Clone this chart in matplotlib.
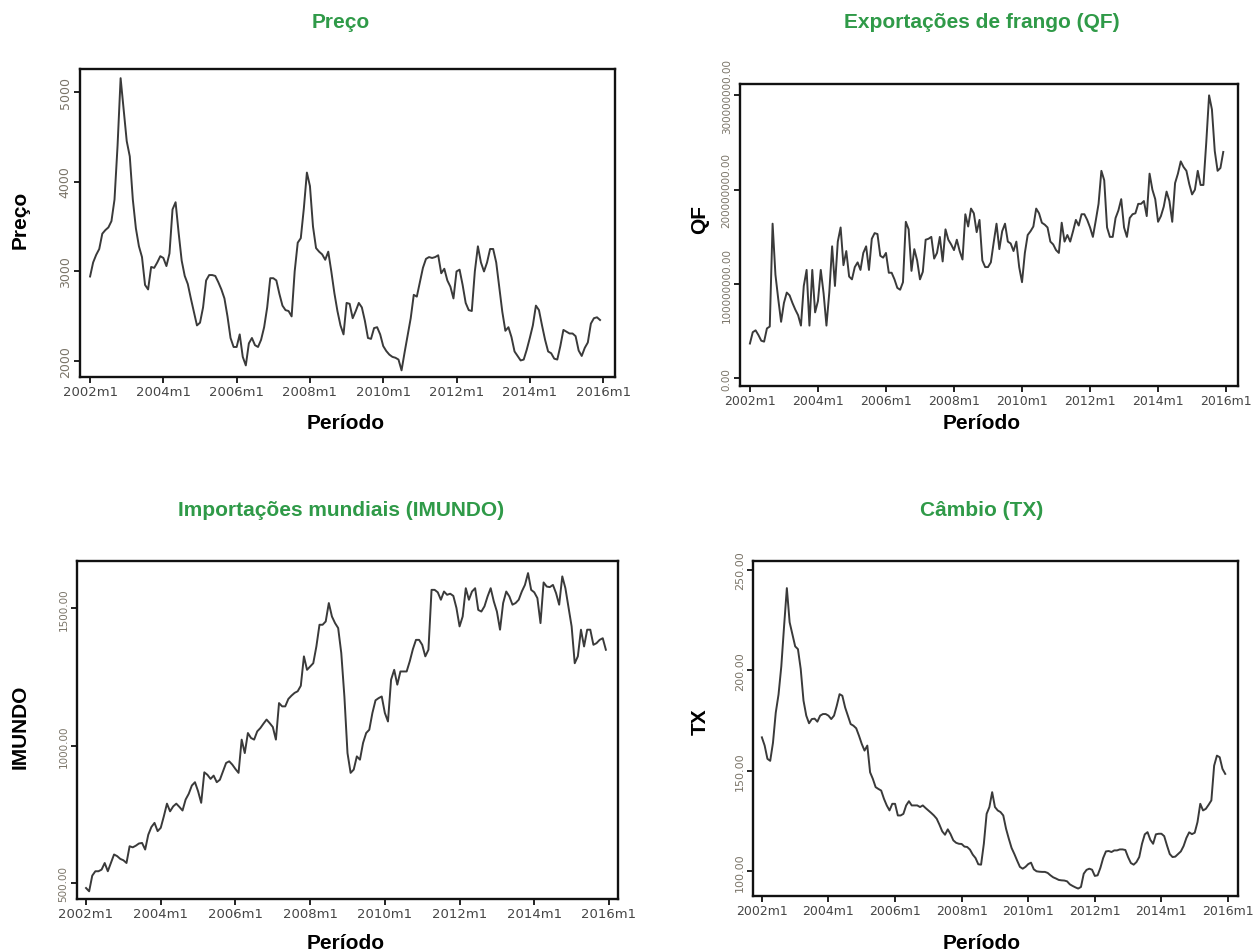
import matplotlib
matplotlib.use("Agg")
import matplotlib.pyplot as plt
import numpy as np

plt.rcParams['font.family'] = ['Liberation Sans', 'DejaVu Sans']

# ---------------- data (monthly, 2002m1 .. 2015m12) ----------------
preco = [2944, 3100, 3185, 3250, 3420, 3460, 3490, 3560, 3800, 4400,
         5150, 4800, 4450, 4280, 3800, 3480, 3280, 3160, 2850, 2800,
         3050, 3040, 3100, 3170, 3150, 3060, 3200, 3690, 3770, 3430,
         3120, 2950, 2860, 2700, 2550, 2400, 2430, 2600, 2900, 2960,
         2960, 2950, 2880, 2800, 2700, 2500, 2260, 2160, 2160, 2300,
         2050, 1955, 2200, 2260, 2180, 2160, 2240, 2380, 2600, 2925,
         2925, 2900, 2750, 2620, 2570, 2560, 2500, 3000, 3320, 3370,
         3700, 4100, 3950, 3500, 3260, 3220, 3190, 3130, 3220, 3000,
         2760, 2560, 2400, 2300, 2650, 2640, 2480, 2560, 2650, 2600,
         2450, 2260, 2250, 2370, 2380, 2300, 2170, 2115, 2075, 2050,
         2040, 2020, 1900, 2100, 2290, 2480, 2740, 2720, 2880, 3040,
         3140, 3160, 3150, 3160, 3180, 2980, 3030, 2900, 2830, 2700,
         3000, 3020, 2850, 2650, 2570, 2560, 3000, 3280, 3100, 3000,
         3100, 3250, 3250, 3100, 2820, 2550, 2340, 2380, 2270, 2110,
         2060, 2010, 2020, 2130, 2260, 2400, 2620, 2570, 2400, 2240,
         2110, 2090, 2030, 2020, 2170, 2350, 2330, 2310, 2310, 2280,
         2120, 2060, 2150, 2210, 2420, 2480, 2490, 2460]

qf_e8 = [0.37, 0.49, 0.51, 0.46, 0.40, 0.39, 0.53, 0.55, 1.64, 1.10,
         0.84, 0.60, 0.80, 0.91, 0.88, 0.80, 0.73, 0.67, 0.56, 0.98,
         1.15, 0.56, 1.15, 0.70, 0.82, 1.15, 0.90, 0.56, 0.91, 1.40,
         0.98, 1.45, 1.60, 1.20, 1.35, 1.08, 1.05, 1.18, 1.23, 1.15,
         1.33, 1.40, 1.15, 1.48, 1.54, 1.53, 1.30, 1.28, 1.33, 1.12,
         1.12, 1.05, 0.96, 0.94, 1.02, 1.66, 1.58, 1.14, 1.37, 1.25,
         1.05, 1.13, 1.47, 1.48, 1.50, 1.27, 1.33, 1.50, 1.24, 1.58,
         1.47, 1.42, 1.36, 1.47, 1.35, 1.26, 1.74, 1.61, 1.80, 1.75,
         1.55, 1.68, 1.25, 1.18, 1.18, 1.23, 1.44, 1.64, 1.37, 1.56,
         1.64, 1.45, 1.43, 1.35, 1.45, 1.18, 1.02, 1.33, 1.52, 1.56,
         1.61, 1.80, 1.75, 1.65, 1.63, 1.60, 1.45, 1.42, 1.36, 1.33,
         1.65, 1.45, 1.52, 1.45, 1.56, 1.68, 1.62, 1.74, 1.74, 1.68,
         1.60, 1.50, 1.67, 1.85, 2.20, 2.10, 1.60, 1.50, 1.50, 1.70,
         1.78, 1.90, 1.60, 1.50, 1.70, 1.74, 1.75, 1.85, 1.85, 1.88,
         1.72, 2.17, 2.00, 1.90, 1.66, 1.72, 1.82, 1.98, 1.88, 1.66,
         2.07, 2.17, 2.30, 2.24, 2.20, 2.06, 1.95, 2.00, 2.20, 2.05,
         2.05, 2.50, 3.00, 2.85, 2.41, 2.20, 2.23, 2.40]
qf = [v * 1e8 for v in qf_e8]

imundo = [482, 470, 527, 543, 543, 549, 573, 543, 573, 604,
          598, 588, 583, 573, 634, 630, 636, 644, 646, 622,
          676, 704, 719, 689, 701, 743, 789, 761, 779, 789,
          777, 764, 804, 825, 855, 867, 834, 792, 903, 894,
          879, 891, 867, 876, 907, 937, 943, 931, 915, 901,
          1022, 973, 1046, 1028, 1022, 1052, 1064, 1080, 1095, 1082,
          1068, 1022, 1155, 1143, 1143, 1170, 1182, 1192, 1198, 1218,
          1325, 1276, 1288, 1300, 1361, 1440, 1440, 1452, 1519, 1470,
          1446, 1428, 1337, 1179, 973, 901, 913, 961, 949, 1010,
          1046, 1058, 1119, 1165, 1173, 1179, 1119, 1088, 1240, 1276,
          1222, 1270, 1270, 1270, 1307, 1351, 1385, 1385, 1367, 1325,
          1349, 1567, 1567, 1558, 1531, 1561, 1549, 1553, 1545, 1501,
          1434, 1470, 1573, 1531, 1561, 1573, 1494, 1488, 1507, 1543,
          1573, 1525, 1488, 1422, 1519, 1561, 1543, 1513, 1519, 1531,
          1561, 1585, 1628, 1567, 1558, 1537, 1446, 1594, 1579, 1577,
          1585, 1555, 1513, 1616, 1573, 1504, 1434, 1300, 1325, 1422,
          1361, 1422, 1422, 1367, 1373, 1385, 1391, 1349]

tx = [166.7, 162.6, 156.0, 155.0, 164.0, 179.0, 188.0, 202.0, 222.0, 241.0,
      224.0, 218.0, 212.0, 210.6, 200.7, 185.0, 177.5, 173.7, 175.8, 176.0,
      174.5, 177.5, 178.3, 178.3, 177.5, 175.8, 177.5, 182.5, 188.2, 187.4,
      181.6, 177.5, 173.3, 172.5, 171.2, 167.5, 163.4, 160.1, 162.6, 149.3,
      146.0, 141.9, 141.0, 140.2, 136.1, 132.8, 130.3, 133.6, 133.6, 127.8,
      127.8, 128.6, 132.8, 134.9, 132.8, 132.8, 132.8, 132.0, 132.8, 131.5,
      130.3, 129.1, 127.8, 126.2, 123.2, 119.9, 118.2, 120.9, 118.5, 115.4,
      114.2, 113.7, 113.6, 112.3, 112.1, 110.8, 108.3, 106.6, 103.5, 103.3,
      113.7, 128.6, 132.0, 139.4, 132.0, 130.3, 129.5, 127.8, 121.2, 116.2,
      111.6, 108.6, 105.3, 102.2, 101.3, 102.2, 103.6, 104.3, 101.0, 100.0,
      99.8, 99.7, 99.7, 99.2, 98.0, 97.0, 96.4, 95.7, 95.5, 95.4,
      95.0, 93.5, 92.7, 92.0, 91.4, 92.2, 98.8, 100.7, 101.3, 100.8,
      97.7, 98.0, 101.7, 106.6, 109.9, 110.1, 109.6, 110.4, 110.4, 110.9,
      110.9, 110.6, 107.0, 104.1, 103.3, 104.6, 107.1, 113.7, 118.4, 119.5,
      115.7, 113.7, 118.4, 118.7, 118.7, 117.5, 112.9, 108.6, 107.1, 107.3,
      108.6, 109.9, 112.6, 116.6, 119.4, 118.5, 119.2, 124.5, 133.6, 130.3,
      131.1, 133.1, 135.3, 152.6, 157.6, 156.8, 151.0, 148.5]

xtick_labels = ["2002m1", "2004m1", "2006m1", "2008m1",
                "2010m1", "2012m1", "2014m1", "2016m1"]
xtick_pos = [0, 24, 48, 72, 96, 120, 144, 168]

preco_ticks = [2000, 3000, 4000, 5000]
preco_tlabels = ["2000", "3000", "4000", "5000"]
qf_ticks = [0, 1e8, 2e8, 3e8]
qf_tlabels = ["0.00", "100000000.00", "200000000.00", "300000000.00"]
imundo_ticks = [500, 1000, 1500]
imundo_tlabels = ["500.00", "1000.00", "1500.00"]
tx_ticks = [100, 150, 200, 250]
tx_tlabels = ["100.00", "150.00", "200.00", "250.00"]

# ---------------- figure ----------------
W, H = 1253, 953
fig = plt.figure(figsize=(W / 100, H / 100), dpi=100)
fig.patch.set_facecolor("white")

GREEN = "#2f9a48"
LINE = "#3a3a3a"


def box(x0, y0, x1, y1):
    return [x0 / W, 1 - y1 / H, (x1 - x0) / W, (y1 - y0) / H]


def panel(rect, data, xlim, ylim, yt, ytl, ytfs=9.0, xtfs=9.5):
    ax = fig.add_axes(rect)
    t = np.arange(len(data))
    ax.plot(t, data, color=LINE, lw=1.4)
    ax.set_xlim(*xlim)
    ax.set_ylim(*ylim)
    ax.set_xticks(xtick_pos)
    ax.set_xticklabels(xtick_labels, fontsize=xtfs, color="#454545",
                       family="DejaVu Sans")
    ax.set_yticks(yt)
    ax.set_yticklabels(ytl, fontsize=ytfs, color="#7a7468", rotation=90,
                       va="center", family="DejaVu Sans")
    for s in ax.spines.values():
        s.set_linewidth(1.7)
        s.set_color("#111111")
    ax.tick_params(axis="both", direction="out", length=4, width=1.3,
                   color="#111111", pad=2)
    return ax


panel(box(80, 70, 615, 378), preco, (-3.3, 171.9), (1826, 5252),
      preco_ticks, preco_tlabels, ytfs=9.0)
panel(box(740, 85, 1238, 387), qf, (-3.5, 172.2), (-0.08e8, 3.12e8),
      qf_ticks, qf_tlabels, ytfs=7.5, xtfs=9.0)
panel(box(77, 562, 618, 900), imundo, (-2.9, 170.9), (442, 1672),
      imundo_ticks, imundo_tlabels, ytfs=7.5)
panel(box(753, 562, 1238, 897), tx, (-3.2, 171.6), (87.7, 254.5),
      tx_ticks, tx_tlabels, ytfs=8.0, xtfs=9.0)


def ftext(x, y, s, **kw):
    fig.text(x / W, 1 - y / H, s, ha="center", va="center", **kw)


tkw = dict(fontsize=15, fontweight="bold", color=GREEN)
ftext(341, 22, "Preço", **tkw)
ftext(982, 22, "Exportações de frango (QF)", **tkw)
ftext(341, 510, "Importações mundiais (IMUNDO)", **tkw)
ftext(982, 510, "Câmbio (TX)", **tkw)

lkw = dict(fontsize=15, fontweight="bold", color="black")
ftext(346, 424, "Período", **lkw)
ftext(982, 424, "Período", **lkw)
ftext(346, 944, "Período", **lkw)
ftext(982, 944, "Período", **lkw)
ftext(20, 220, "Preço", rotation=90, **lkw)
ftext(700, 220, "QF", rotation=90, **lkw)
ftext(20, 727, "IMUNDO", rotation=90, **lkw)
ftext(700, 722, "TX", rotation=90, **lkw)

fig.savefig("out.png", dpi=100, facecolor="white")
